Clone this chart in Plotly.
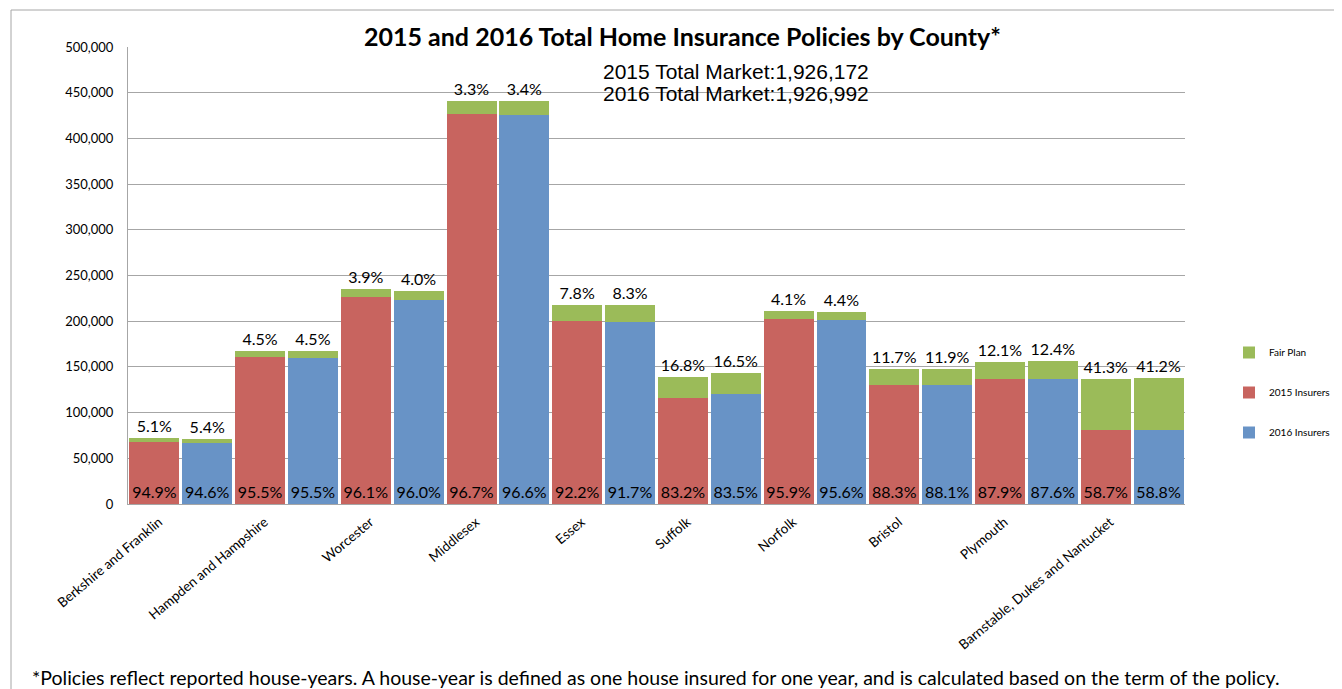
import plotly.graph_objects as go

counties = ["Berkshire and Franklin", "Hampden and Hampshire", "Worcester", "Middlesex",
            "Essex", "Suffolk", "Norfolk", "Bristol", "Plymouth",
            "Barnstable, Dukes and Nantucket"]

ins_2015 = [68200, 160300, 226400, 426400, 200700, 115900, 202800, 130400, 136900, 80500]
fair_2015 = [3700, 7500, 9200, 14500, 17000, 23400, 8700, 17300, 18800, 56600]
ins_2016 = [67000, 159400, 223700, 425900, 199600, 120000, 201100, 130100, 136700, 81300]
fair_2016 = [3800, 7500, 9300, 15000, 18100, 23700, 9300, 17600, 19400, 56900]

ins_pct_2015 = ["94.9%", "95.5%", "96.1%", "96.7%", "92.2%", "83.2%", "95.9%", "88.3%", "87.9%", "58.7%"]
ins_pct_2016 = ["94.6%", "95.5%", "96.0%", "96.6%", "91.7%", "83.5%", "95.6%", "88.1%", "87.6%", "58.8%"]
fair_pct_2015 = ["5.1%", "4.5%", "3.9%", "3.3%", "7.8%", "16.8%", "4.1%", "11.7%", "12.1%", "41.3%"]
fair_pct_2016 = ["5.4%", "4.5%", "4.0%", "3.4%", "8.3%", "16.5%", "4.4%", "11.9%", "12.4%", "41.2%"]

y_ticks = [0, 50000, 100000, 150000, 200000, 250000, 300000, 350000, 400000, 450000, 500000]

RED = "#C8645F"
BLUE = "#6893C6"
GREEN = "#9BBB59"
GRID = "#A6A6A6"
LBL = "Lato, 'Open Sans', sans-serif"

# figure size / plot box in pixels (page body adds an 8px offset)
W, H = 1334, 681
L, R, T, B = 120, 157, 39, 185
PW, PH = W - L - R, H - T - B


def px(x):
    return (x - L) / PW


def py(y):
    return (H - B - y) / PH


# two bar slots per county: even = 2015, odd = 2016
x15 = [2 * i for i in range(len(counties))]
x16 = [2 * i + 1 for i in range(len(counties))]

fair_x, fair_y, fair_txt = [], [], []
for i in range(len(counties)):
    fair_x += [x15[i], x16[i]]
    fair_y += [fair_2015[i], fair_2016[i]]
    fair_txt += [fair_pct_2015[i], fair_pct_2016[i]]

fig = go.Figure()

fig.add_trace(go.Bar(
    x=x15, y=ins_2015, name="2015 Insurers", marker=dict(color=RED, line=dict(width=0)),
    text=ins_pct_2015, textposition="inside", insidetextanchor="start", textangle=0,
    textfont=dict(size=16, color="black", family=LBL), constraintext="none",
    legendrank=2, legendgroup="b"))
fig.add_trace(go.Bar(
    x=x16, y=ins_2016, name="2016 Insurers", marker=dict(color=BLUE, line=dict(width=0)),
    text=ins_pct_2016, textposition="inside", insidetextanchor="start", textangle=0,
    textfont=dict(size=16, color="black", family=LBL), constraintext="none",
    legendrank=3, legendgroup="c"))
fig.add_trace(go.Bar(
    x=fair_x, y=fair_y, name="Fair Plan", marker=dict(color=GREEN, line=dict(width=0)),
    text=fair_txt, textposition="outside", textangle=0,
    textfont=dict(size=16, color="black", family=LBL), constraintext="none",
    cliponaxis=False, legendrank=1, legendgroup="a"))

fig.update_layout(
    barmode="stack",
    bargap=0.055,
    width=W, height=H,
    margin=dict(l=L, r=R, t=T, b=B, autoexpand=False),
    plot_bgcolor="white", paper_bgcolor="white",
    font=dict(family=LBL, color="black"),
    showlegend=True,
    legend=dict(xref="container", yref="container",
                x=1221 / W, y=(H - 330) / H, xanchor="left", yanchor="top",
                font=dict(size=10, family=LBL), tracegroupgap=21,
                itemwidth=30, bgcolor="rgba(0,0,0,0)"),
    xaxis=dict(
        range=[-0.5, 19.5],
        tickvals=[2 * i + 0.5 for i in range(len(counties))],
        ticktext=counties, tickangle=-40,
        tickfont=dict(size=13.5, family=LBL), ticklabelshift=-22, ticklabelstandoff=4,
        showgrid=False, zeroline=False, automargin=False,
        showline=True, linecolor=GRID, linewidth=1,
    ),
    yaxis=dict(
        range=[0, 500000], tickvals=y_ticks, tickformat=",",
        tickfont=dict(size=13, family=LBL), ticklabelstandoff=11,
        showgrid=True, gridcolor=GRID, gridwidth=1, automargin=False,
        zeroline=False, showline=True, linecolor=GRID, linewidth=1,
        ticks="", ticklen=0,
    ),
)

fig.add_annotation(
    text="<b>2015 and 2016 Total Home Insurance Policies by County*</b>",
    xref="paper", yref="paper", x=px(674), y=py(28), xanchor="center", yanchor="middle",
    showarrow=False, font=dict(size=25, family=LBL, color="black"))

for txt, yy in [("2015 Total Market:1,926,172", 64), ("2016 Total Market:1,926,992", 85)]:
    fig.add_annotation(
        text=txt, xref="paper", yref="paper", x=px(593), y=py(yy),
        xanchor="left", yanchor="middle", align="left", showarrow=False,
        font=dict(size=21, family="Liberation Sans, Arial, sans-serif", color="black"))

fig.add_annotation(
    text="*Policies reflect reported house-years. A house-year is defined as one house insured for one year, "
         "and is calculated based on the term of the policy.",
    xref="paper", yref="paper", x=px(22), y=py(669),
    xanchor="left", yanchor="middle", showarrow=False,
    font=dict(size=19.5, family=LBL, color="black"))

# outer chart border (top and left edge visible in the picture)
fig.add_shape(type="line", xref="paper", yref="paper",
              x0=px(3), x1=px(W + 5), y0=py(2), y1=py(2),
              line=dict(color=GRID, width=1))
fig.add_shape(type="line", xref="paper", yref="paper",
              x0=px(3), x1=px(3), y0=py(2), y1=py(H + 5),
              line=dict(color=GRID, width=1))

fig.write_html("out.html")
